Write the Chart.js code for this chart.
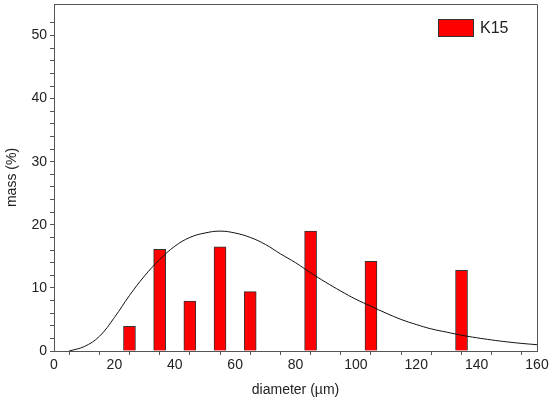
<!DOCTYPE html>
<html>

<head>
    <meta charset="utf-8">
    <title>K15 size distribution</title>
</head>

<style>
    body {
        margin: 0;
        background-color: #ffffff;
    }
</style>

<body>
    <canvas id="massChart" width="549" height="403"></canvas>

    <script src="https://cdn.jsdelivr.net/npm/chart.js"></script>
    <script>
        // bar data: diameter classes and mass share
        var diameters = [25, 35, 45, 55, 65, 85, 105, 135];
        var massValues = [3.9, 16.1, 7.9, 16.5, 9.4, 19.0, 14.2, 12.8];

        // fitted curve
        var curveX = [5, 10, 15, 20, 25, 30, 35, 40, 45, 50, 55, 60, 65, 70, 75, 80,
            85, 90, 95, 100, 105, 110, 115, 120, 125, 130, 135, 140, 145, 150, 155, 160];
        var curveY = [0, 0.7, 2.3, 5.3, 8.8, 11.9, 14.5, 16.6, 18.0, 18.7, 19.0, 18.7, 18.0, 16.9, 15.4, 14.0,
            12.4, 10.9, 9.5, 8.2, 7.1, 6.0, 5.0, 4.2, 3.5, 3.0, 2.5, 2.1, 1.75, 1.45, 1.2, 1.0];

        var xTickLabels = [0, 20, 40, 60, 80, 100, 120, 140, 160];
        var yTickLabels = [0, 10, 20, 30, 40, 50];

        var barPoints = diameters.map(function (d, i) { return { x: d, y: massValues[i] }; });
        var curvePoints = curveX.map(function (d, i) { return { x: d, y: curveY[i] }; });

        var axisColor = '#555555';
        var textColor = '#222222';
        Chart.defaults.font.family = 'Arial, "Liberation Sans", sans-serif';

        // box round the plot area (top and right sides) plus the legend in the top right corner
        var frame = {
            id: 'frame',
            afterDraw: function (chart) {
                var a = chart.chartArea;
                var ctx = chart.ctx;
                ctx.save();
                ctx.strokeStyle = axisColor;
                ctx.lineWidth = 1;
                ctx.beginPath();
                ctx.moveTo(a.left, a.top + 0.5);
                ctx.lineTo(a.right + 0.5, a.top + 0.5);
                ctx.lineTo(a.right + 0.5, a.bottom);
                ctx.stroke();

                var ds = chart.data.datasets[0];
                var bx = a.right - 99, by = a.top + 15;
                ctx.fillStyle = ds.backgroundColor;
                ctx.fillRect(bx, by, 36, 18);
                ctx.strokeStyle = ds.borderColor;
                ctx.strokeRect(bx + 0.5, by + 0.5, 35, 17);
                ctx.fillStyle = textColor;
                ctx.font = '16px Arial, "Liberation Sans", sans-serif';
                ctx.textBaseline = 'middle';
                ctx.fillText(ds.label, bx + 42, by + 10);
                ctx.restore();
            }
        };

        var ctx = document.getElementById('massChart').getContext('2d');
        var chart = new Chart(ctx, {
            type: 'bar',
            data: {
                datasets: [{
                    type: 'bar',
                    label: 'K15',
                    data: barPoints,
                    backgroundColor: '#ff0000',
                    borderColor: '#333333',
                    borderWidth: 1,
                    barThickness: 12,
                    order: 2
                }, {
                    type: 'line',
                    label: 'fit',
                    data: curvePoints,
                    borderColor: '#111111',
                    borderWidth: 1,
                    pointRadius: 0,
                    tension: 0.4,
                    fill: false,
                    order: 1
                }]
            },
            options: {
                responsive: false,
                animation: false,
                layout: { padding: { top: 4, right: 12, left: 0, bottom: 0 } },
                plugins: {
                    tooltip: { enabled: false },
                    legend: { display: false }
                },
                scales: {
                    x: {
                        type: 'linear',
                        min: 0,
                        max: 160,
                        offset: false,
                        afterFit: function (s) { s.height = 52; s.paddingRight = 0; s.paddingLeft = 0; },
                        ticks: {
                            stepSize: 10,
                            autoSkip: false,
                            maxRotation: 0,
                            color: textColor,
                            font: { size: 14 },
                            padding: 2,
                            callback: function (v) { return xTickLabels.indexOf(v) >= 0 ? String(v) : ''; }
                        },
                        grid: {
                            drawOnChartArea: false,
                            drawTicks: true,
                            tickLength: 4,
                            tickColor: axisColor
                        },
                        border: { color: axisColor, width: 1 },
                        title: {
                            display: true,
                            text: 'diameter (\u00b5m)',
                            color: textColor,
                            font: { size: 14 },
                            padding: { top: 8 }
                        }
                    },
                    y: {
                        min: 0,
                        max: 55,
                        afterFit: function (s) { s.width = 54; s.paddingTop = 0; s.paddingBottom = 0; },
                        afterBuildTicks: function (s) {
                            s.ticks = s.ticks.filter(function (t) { return t.value % 2 === 0; });
                        },
                        ticks: {
                            stepSize: 2,
                            autoSkip: false,
                            color: textColor,
                            font: { size: 14 },
                            padding: 3,
                            callback: function (v) { return yTickLabels.indexOf(v) >= 0 ? String(v) : ''; }
                        },
                        grid: {
                            drawOnChartArea: false,
                            drawTicks: true,
                            tickLength: 4,
                            tickColor: axisColor
                        },
                        border: { color: axisColor, width: 1 },
                        title: {
                            display: true,
                            text: 'mass (%)',
                            color: textColor,
                            font: { size: 14 },
                            padding: { top: 4, bottom: 4 }
                        }
                    }
                }
            },
            plugins: [frame]
        });
    </script>

</body>

</html>
